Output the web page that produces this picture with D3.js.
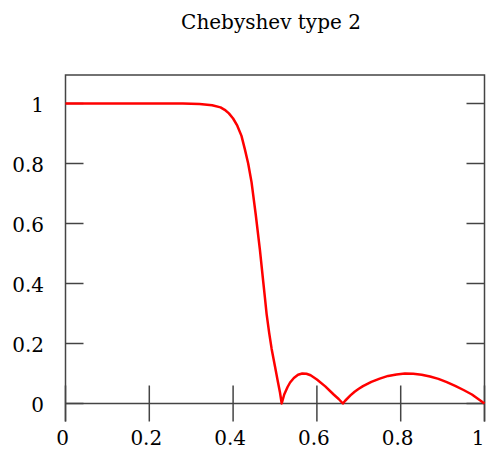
<!DOCTYPE html>
<html>
<head>
<meta charset="utf-8">
<script src="https://cdn.jsdelivr.net/npm/d3@7"></script>
<style>
  body { margin: 0; background: #fff; }
</style>
</head>
<body>
<script>
const width = 486; //Size of the page.
const height = 450;
const fontFamily = "'DejaVu Serif', serif";
const fontSize = '20px';

const chartTitle = 'Chebyshev type 2';

//Tick values for both axes.
const xTicks = [0, 0.2, 0.4, 0.6, 0.8, 1];
const xTickLabels = ['0', '0.2', '0.4', '0.6', '0.8', '1'];
const yTicks = [0, 0.2, 0.4, 0.6, 0.8, 1];
const yTickLabels = ['0', '0.2', '0.4', '0.6', '0.8', '1'];

//Normalised frequency and magnitude.
const freq = [0, 0.1, 0.2, 0.28, 0.32, 0.35, 0.37, 0.38, 0.39, 0.40, 0.41, 0.42, 0.428, 0.436, 0.444,
  0.454, 0.464, 0.472, 0.476, 0.480, 0.486, 0.492, 0.500, 0.507, 0.512, 0.516,
  0.522, 0.530, 0.536, 0.545, 0.555, 0.565, 0.575, 0.585, 0.600, 0.620, 0.640, 0.652, 0.662,
  0.668, 0.680, 0.690, 0.700, 0.710, 0.730, 0.750, 0.770, 0.790, 0.810, 0.830, 0.850, 0.870, 0.890,
  0.910, 0.930, 0.950, 0.970, 0.985, 1.0];
const magnitude = [1, 1, 1, 1, 0.998, 0.994, 0.987, 0.979, 0.967, 0.95, 0.926, 0.892, 0.848, 0.80, 0.738,
  0.63, 0.512, 0.405, 0.352, 0.298, 0.236, 0.182, 0.123, 0.072, 0.036, 0,
  0.03, 0.055, 0.07, 0.085, 0.096, 0.100, 0.099, 0.094, 0.080, 0.057, 0.030, 0.015, 0,
  0.01, 0.027, 0.039, 0.049, 0.058, 0.072, 0.083, 0.092, 0.097, 0.100, 0.099, 0.096, 0.090, 0.082,
  0.071, 0.059, 0.045, 0.030, 0.015, 0];

const yTop = 1.095; //Upper limit of the plot box.
const yBottom = -0.06; //Lower end of the side lines.

const x = d3.scaleLinear().domain([0, 1]).range([65.5, 484.5]);
const y = d3.scaleLinear().domain([0, 1]).range([403.5, 103.5]);

const svg = d3.select('body').append('svg')
  .attr('width', width)
  .attr('height', height)
  .style('font-family', fontFamily);

svg.append('text') //Title.
  .attr('x', 271)
  .attr('y', 29)
  .attr('text-anchor', 'middle')
  .style('font-family', fontFamily)
  .style('font-size', fontSize)
  .text(chartTitle);

const axisColour = '#444';

//Box: left, top and right lines.
svg.append('path')
  .attr('d', `M${x(0)},${y(yBottom)}V${y(yTop)}H${x(1)}V${y(yBottom)}`)
  .attr('fill', 'none')
  .attr('stroke', axisColour)
  .attr('stroke-width', 1.5);

//x-axis along y = 0, ticks cross the line.
const xAxis = svg.append('g').attr('transform', `translate(0,${y(0)})`);
xAxis.append('line')
  .attr('x1', x(0)).attr('x2', x(1))
  .attr('stroke', axisColour).attr('stroke-width', 1.5);
xAxis.selectAll('.xtick').data(xTicks).enter().append('line')
  .attr('class', 'xtick')
  .attr('x1', d => x(d)).attr('x2', d => x(d))
  .attr('y1', -18).attr('y2', 18)
  .attr('stroke', axisColour).attr('stroke-width', 1.5);
svg.selectAll('.xlabel').data(xTicks).enter().append('text')
  .attr('class', 'xlabel')
  .attr('x', d => Math.min(x(d) - 3, width - 8)) //Keeps the last label inside the page.
  .attr('y', 445)
  .attr('text-anchor', 'middle')
  .style('font-family', fontFamily)
  .style('font-size', fontSize)
  .text((d, i) => xTickLabels[i]);

//y ticks on both sides, pointing in.
svg.selectAll('.ytickL').data(yTicks).enter().append('line')
  .attr('class', 'ytickL')
  .attr('x1', x(0)).attr('x2', x(0) + 18)
  .attr('y1', d => y(d)).attr('y2', d => y(d))
  .attr('stroke', axisColour).attr('stroke-width', 1.5);
svg.selectAll('.ytickR').data(yTicks).enter().append('line')
  .attr('class', 'ytickR')
  .attr('x1', x(1) - 18).attr('x2', x(1))
  .attr('y1', d => y(d)).attr('y2', d => y(d))
  .attr('stroke', axisColour).attr('stroke-width', 1.5);
svg.selectAll('.ylabel').data(yTicks).enter().append('text')
  .attr('class', 'ylabel')
  .attr('x', 44)
  .attr('y', d => y(d) + 8)
  .attr('text-anchor', 'end')
  .style('font-family', fontFamily)
  .style('font-size', fontSize)
  .text((d, i) => yTickLabels[i]);

//The response curve.
const line = d3.line()
  .x((d, i) => x(freq[i]))
  .y(d => y(d));

svg.append('path')
  .datum(magnitude)
  .attr('d', line)
  .attr('fill', 'none')
  .attr('stroke', '#ff0000')
  .attr('stroke-width', 2.5)
  .attr('stroke-linejoin', 'round');
</script>
</body>
</html>
